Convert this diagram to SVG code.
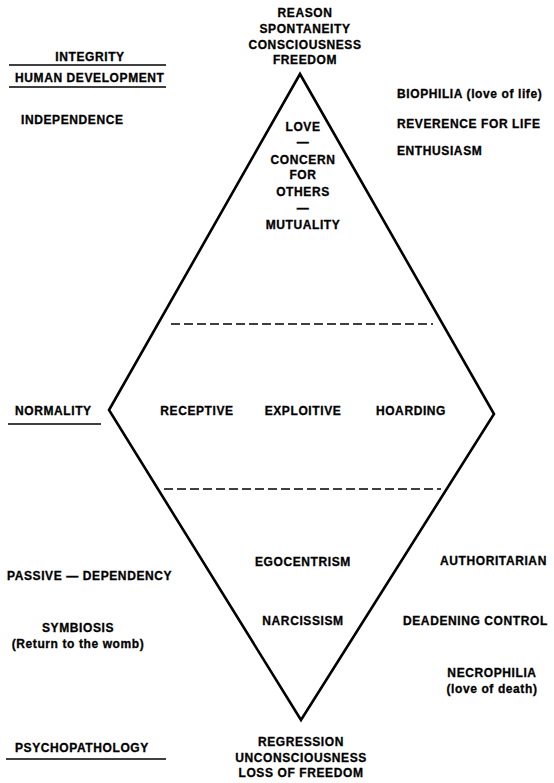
<svg xmlns="http://www.w3.org/2000/svg" width="554" height="783" viewBox="0 0 554 783">
<style>
text{font-family:"Liberation Sans",Arial,Helvetica,sans-serif;font-weight:bold;font-size:12px;letter-spacing:0.6px;fill:#000;stroke:#000;stroke-width:0.3px}
.c{text-anchor:middle}
.edge{fill:none;stroke:#000;stroke-width:2.6;stroke-linejoin:miter}
.dash{stroke:#000;stroke-width:1.6;stroke-dasharray:9 4;fill:none}
.rule{stroke:#000;stroke-width:1.5}
</style>
<rect width="554" height="783" fill="#fff"/>
<g id="connectors">
<polygon class="edge" points="300,74 494,414 301,720 109,410"/>
<line class="dash" x1="171" y1="324" x2="433" y2="324"/>
<line class="dash" x1="164" y1="489" x2="441" y2="489"/>
<line class="rule" x1="9" y1="65" x2="166" y2="65"/>
<line class="rule" x1="9" y1="87" x2="166" y2="87"/>
<line class="rule" x1="8" y1="424" x2="101" y2="424"/>
<line class="rule" x1="6" y1="759" x2="166" y2="759"/>
</g>
<g id="top-labels">
<text class="c" x="305" y="17">REASON</text>
<text class="c" x="305" y="33">SPONTANEITY</text>
<text class="c" x="305" y="49">CONSCIOUSNESS</text>
<text class="c" x="305" y="64">FREEDOM</text>
</g>
<g id="left-labels">
<text class="c" x="90" y="61">INTEGRITY</text>
<text x="15" y="82">HUMAN DEVELOPMENT</text>
<text x="21" y="124">INDEPENDENCE</text>
<text x="15" y="415">NORMALITY</text>
<text x="7" y="580">PASSIVE — DEPENDENCY</text>
<text class="c" x="78" y="632">SYMBIOSIS</text>
<text class="c" x="78" y="648">(Return to the womb)</text>
<text x="15" y="752">PSYCHOPATHOLOGY</text>
</g>
<g id="right-labels">
<text x="397" y="98">BIOPHILIA (love of life)</text>
<text x="397" y="128">REVERENCE FOR LIFE</text>
<text x="397" y="155">ENTHUSIASM</text>
<text x="440" y="565">AUTHORITARIAN</text>
<text x="403" y="625">DEADENING CONTROL</text>
<text class="c" x="492" y="677">NECROPHILIA</text>
<text class="c" x="492" y="693">(love of death)</text>
</g>
<g id="upper-center">
<text class="c" x="303" y="131">LOVE</text>
<text class="c" x="303" y="146">—</text>
<text class="c" x="303" y="164">CONCERN</text>
<text class="c" x="303" y="179">FOR</text>
<text class="c" x="303" y="196">OTHERS</text>
<text class="c" x="303" y="212">—</text>
<text class="c" x="303" y="229">MUTUALITY</text>
</g>
<g id="middle-row">
<text class="c" x="197" y="415">RECEPTIVE</text>
<text class="c" x="303" y="415">EXPLOITIVE</text>
<text class="c" x="411" y="415">HOARDING</text>
</g>
<g id="lower-center">
<text class="c" x="303" y="566">EGOCENTRISM</text>
<text class="c" x="303" y="625">NARCISSISM</text>
</g>
<g id="bottom-labels">
<text class="c" x="301" y="746">REGRESSION</text>
<text class="c" x="301" y="762">UNCONSCIOUSNESS</text>
<text class="c" x="301" y="777">LOSS OF FREEDOM</text>
</g>
</svg>
